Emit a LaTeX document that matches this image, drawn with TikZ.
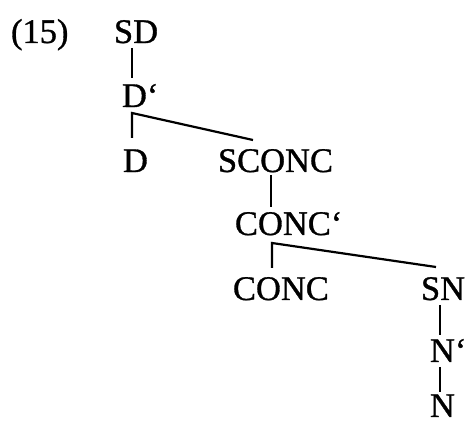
\documentclass[tikz,border=0pt]{standalone}
\usepackage{fontspec}
\setmainfont{Liberation Serif}
% a slightly heavier cut of the same face for the tree labels
\newfontfamily\treefont{Liberation Serif}[FakeBold=0.9]
\begin{document}
\begin{tikzpicture}[x=1pt,y=-1pt,
  lbl/.style={anchor=base west,inner sep=0pt,outer sep=0pt,text depth=0pt,
    font=\treefont\fontsize{34.5}{40}\selectfont},
  branch/.style={line width=2.2pt,line cap=butt,line join=miter}]
\useasboundingbox (0,0) rectangle (467,425);

% example number
\node[lbl] (num) at (11,43) {(15)};

% tree labels
\node[lbl] (SD)    at (114,43)  {SD};
\node[lbl] (Dbar)  at (122,107) {D‘};
\node[lbl] (D)     at (123,172) {D};
\node[lbl] (SCONC) at (218,172) {SCONC};
\node[lbl] (CONCb) at (235,235) {CONC‘};
\node[lbl] (CONC)  at (233,300) {CONC};
\node[lbl] (SN)    at (421,300) {SN};
\node[lbl] (Nbar)  at (430,362) {N‘};
\node[lbl] (N)     at (430,417) {N};

% attachment points of the branches
\coordinate (SD-b)    at (132,48);
\coordinate (Dbar-t)  at (132,78);
\coordinate (Dbar-b)  at (132,113);
\coordinate (D-t)     at (132,138);
\coordinate (SCONC-t) at (253,140);
\coordinate (SCONC-b) at (271,175);
\coordinate (CONCb-t) at (271,207);
\coordinate (CONCb-b) at (272,243);
\coordinate (CONC-t)  at (272,268);
\coordinate (SN-t)    at (436,267);
\coordinate (SN-b)    at (440,305);
\coordinate (Nbar-t)  at (440,335);
\coordinate (Nbar-b)  at (440,367);
\coordinate (N-t)     at (440,392);

% branches
\draw[branch] (SD-b) -- (Dbar-t);
\draw[branch] (D-t) -- (Dbar-b) -- (SCONC-t);
\draw[branch] (SCONC-b) -- (CONCb-t);
\draw[branch] (CONC-t) -- (CONCb-b) -- (SN-t);
\draw[branch] (SN-b) -- (Nbar-t);
\draw[branch] (Nbar-b) -- (N-t);
\end{tikzpicture}
\end{document}
